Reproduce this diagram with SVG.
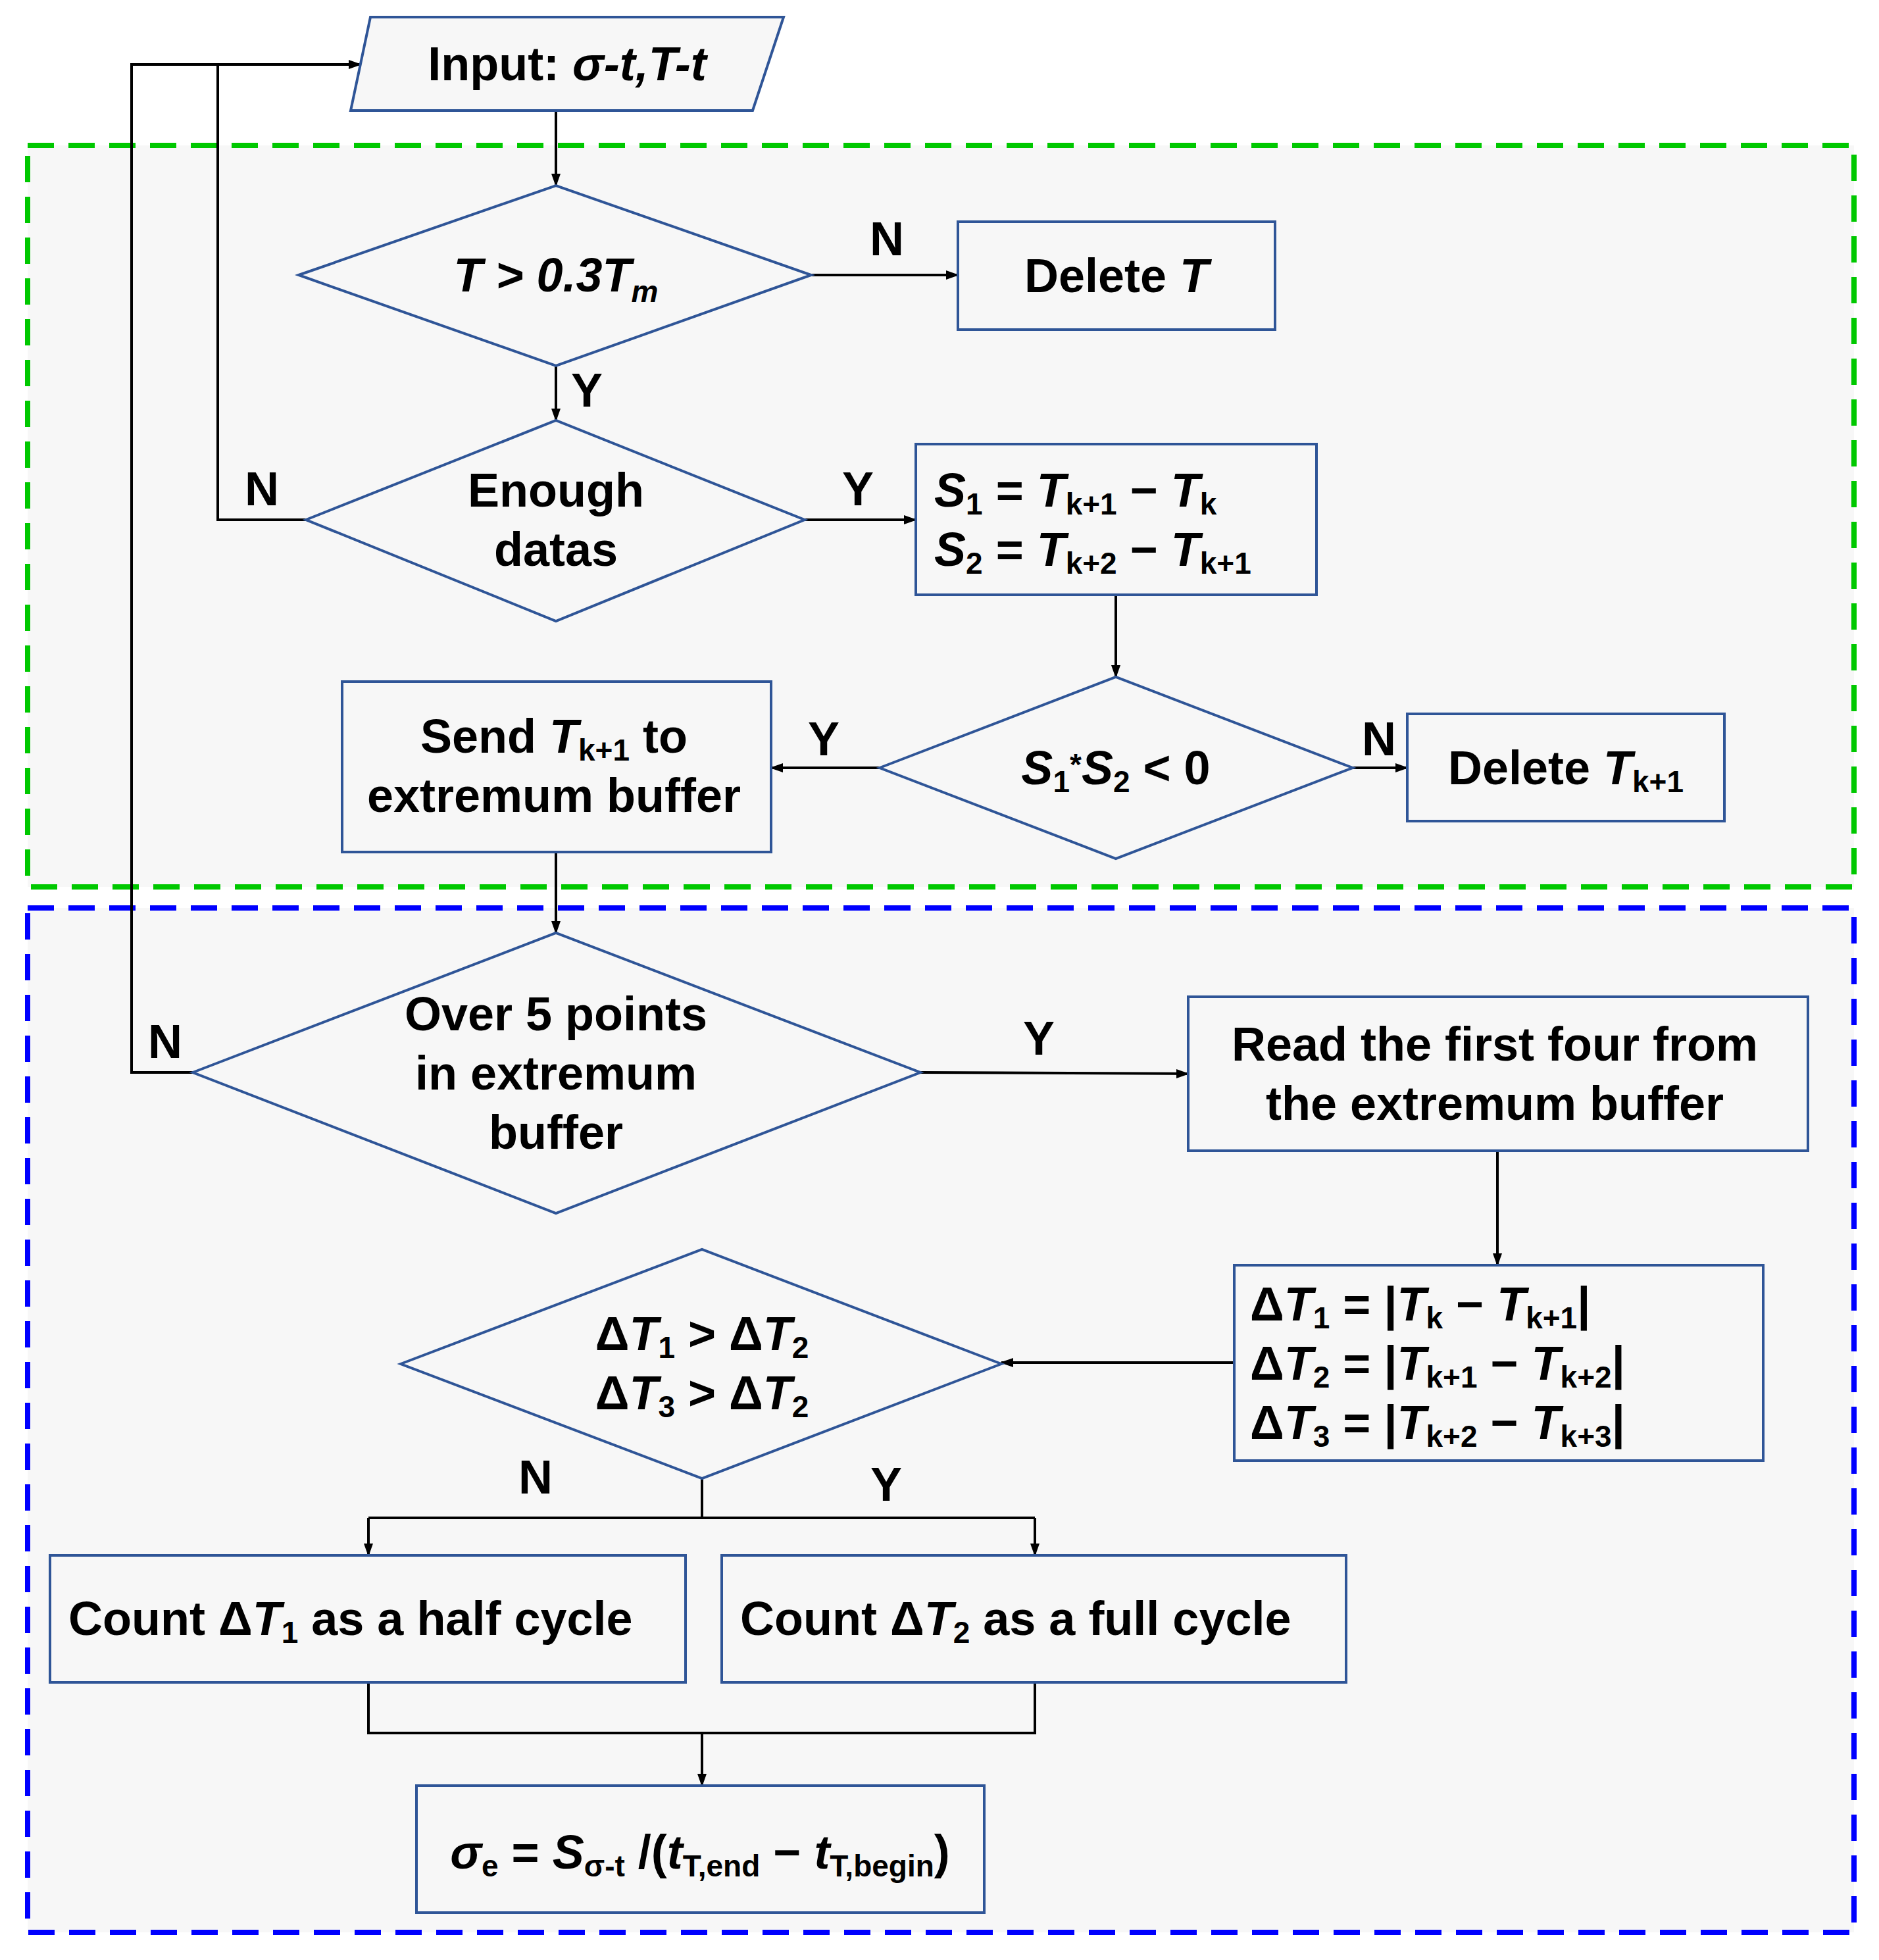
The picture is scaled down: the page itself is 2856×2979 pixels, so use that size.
<svg xmlns="http://www.w3.org/2000/svg" width="2856" height="2979" viewBox="0 0 2856 2979">
<style>
text{font-family:"Liberation Sans",Arial,sans-serif;font-weight:bold;font-size:72px;fill:#000}
.n{fill:#f7f7f7;stroke:#2f5597;stroke-width:4}
.c{fill:none;stroke:#000;stroke-width:4}
.s{font-size:46px}
.i{font-style:italic}
</style>
<defs>
<marker id="ar" markerWidth="20" markerHeight="20" refX="18" refY="10" orient="auto" markerUnits="userSpaceOnUse"><path d="M0,3L20,10L0,17z" fill="#000"/></marker></defs>
<rect width="2856" height="2979" fill="#fff"/>
<g id="regions">
<rect x="42" y="221" width="2776" height="1127" fill="#f7f7f7" stroke="#00c800" stroke-width="8" stroke-dasharray="40 22"/>
<rect x="42" y="1380" width="2776" height="1557" fill="#f7f7f7" stroke="#0000ff" stroke-width="8" stroke-dasharray="40 22"/>
</g>
<g id="connectors">
<path class="c" marker-end="url(#ar)" d="M293,1630H200V98H548"/>
<path class="c" d="M465,790H331V98"/>
<path class="c" marker-end="url(#ar)" d="M845,168V282"/>
<path class="c" marker-end="url(#ar)" d="M1233,418H1456"/>
<path class="c" marker-end="url(#ar)" d="M845,556V639"/>
<path class="c" marker-end="url(#ar)" d="M1223,790H1392"/>
<path class="c" marker-end="url(#ar)" d="M1696,904V1029"/>
<path class="c" marker-end="url(#ar)" d="M1337,1167H1172"/>
<path class="c" marker-end="url(#ar)" d="M2056,1167H2139"/>
<path class="c" marker-end="url(#ar)" d="M845,1295V1418"/>
<path class="c" marker-end="url(#ar)" d="M1399,1630L1806,1632"/>
<path class="c" marker-end="url(#ar)" d="M2276,1749V1923"/>
<path class="c" marker-end="url(#ar)" d="M1876,2071H1522"/>
<path class="c" d="M1067,2247V2307M560,2307H1573"/>
<path class="c" marker-end="url(#ar)" d="M560,2307V2364"/>
<path class="c" marker-end="url(#ar)" d="M1573,2307V2364"/>
<path class="c" d="M560,2557V2634H1573V2557"/>
<path class="c" marker-end="url(#ar)" d="M1067,2634V2714"/>
<text x="1322" y="388">N</text><text x="868" y="618">Y</text>
<text x="372" y="768">N</text><text x="1280" y="768">Y</text>
<text x="1228" y="1148">Y</text><text x="2070" y="1148">N</text>
<text x="225" y="1608">N</text><text x="1555" y="1603">Y</text>
<text x="788" y="2270">N</text><text x="1323" y="2281">Y</text>
</g>
<g id="input"><path class="n" d="M563,26H1191L1144,168H533Z"/><text x="862" y="122" text-anchor="middle">Input: <tspan class="i">σ-t,T-t</tspan></text></g>
<g id="d1"><path class="n" d="M454,418L845,282L1233,418L845,556Z"/><text x="845" y="443" text-anchor="middle" class="i">T &gt; 0.3T<tspan class="s" dy="16">m</tspan></text></g>
<g id="delT"><rect class="n" x="1456" y="337" width="482" height="164"/><text x="1697" y="444" text-anchor="middle">Delete <tspan class="i">T</tspan></text></g>
<g id="d2"><path class="n" d="M465,790L845,639L1223,790L845,944Z"/><text x="845" y="770" text-anchor="middle">Enough</text><text x="845" y="860" text-anchor="middle">datas</text></g>
<g id="sbox"><rect class="n" x="1392" y="675" width="609" height="229"/>
<text x="1420" y="770"><tspan class="i">S</tspan><tspan class="s" dy="12">1</tspan><tspan dy="-12"> = </tspan><tspan class="i">T</tspan><tspan class="s" dy="12">k+1</tspan><tspan dy="-12"> − </tspan><tspan class="i">T</tspan><tspan class="s" dy="12">k</tspan></text>
<text x="1420" y="860"><tspan class="i">S</tspan><tspan class="s" dy="12">2</tspan><tspan dy="-12"> = </tspan><tspan class="i">T</tspan><tspan class="s" dy="12">k+2</tspan><tspan dy="-12"> − </tspan><tspan class="i">T</tspan><tspan class="s" dy="12">k+1</tspan></text></g>
<g id="d3"><path class="n" d="M1337,1167L1696,1029L2056,1167L1696,1305Z"/><text x="1696" y="1192" text-anchor="middle"><tspan class="i">S</tspan><tspan class="s" dy="12">1</tspan><tspan dy="-26" class="s">*</tspan><tspan class="i" dy="14">S</tspan><tspan class="s" dy="12">2</tspan><tspan dy="-12"> &lt; 0</tspan></text></g>
<g id="send"><rect class="n" x="520" y="1036" width="652" height="259"/>
<text x="842" y="1144" text-anchor="middle">Send <tspan class="i">T</tspan><tspan class="s" dy="12">k+1</tspan><tspan dy="-12"> to</tspan></text><text x="842" y="1234" text-anchor="middle">extremum buffer</text></g>
<g id="delTk"><rect class="n" x="2139" y="1085" width="482" height="163"/><text x="2380" y="1192" text-anchor="middle">Delete <tspan class="i">T</tspan><tspan class="s" dy="12">k+1</tspan></text></g>
<g id="d4"><path class="n" d="M293,1630L845,1418L1399,1630L845,1844Z"/>
<text x="845" y="1566" text-anchor="middle">Over 5 points</text><text x="845" y="1656" text-anchor="middle">in extremum</text><text x="845" y="1746" text-anchor="middle">buffer</text></g>
<g id="read"><rect class="n" x="1806" y="1515" width="942" height="234"/>
<text x="2272" y="1612" text-anchor="middle">Read the first four from</text><text x="2272" y="1702" text-anchor="middle">the extremum buffer</text></g>
<g id="dt"><rect class="n" x="1876" y="1923" width="804" height="297"/>
<text x="1900" y="2007">Δ<tspan class="i">T</tspan><tspan class="s" dy="12">1</tspan><tspan dy="-12"> = |</tspan><tspan class="i">T</tspan><tspan class="s" dy="12">k</tspan><tspan dy="-12"> − </tspan><tspan class="i">T</tspan><tspan class="s" dy="12">k+1</tspan><tspan dy="-12">|</tspan></text>
<text x="1900" y="2097">Δ<tspan class="i">T</tspan><tspan class="s" dy="12">2</tspan><tspan dy="-12"> = |</tspan><tspan class="i">T</tspan><tspan class="s" dy="12">k+1</tspan><tspan dy="-12"> − </tspan><tspan class="i">T</tspan><tspan class="s" dy="12">k+2</tspan><tspan dy="-12">|</tspan></text>
<text x="1900" y="2187">Δ<tspan class="i">T</tspan><tspan class="s" dy="12">3</tspan><tspan dy="-12"> = |</tspan><tspan class="i">T</tspan><tspan class="s" dy="12">k+2</tspan><tspan dy="-12"> − </tspan><tspan class="i">T</tspan><tspan class="s" dy="12">k+3</tspan><tspan dy="-12">|</tspan></text></g>
<g id="d5"><path class="n" d="M609,2073L1067,1899L1522,2073L1067,2247Z"/>
<text x="1067" y="2052" text-anchor="middle">Δ<tspan class="i">T</tspan><tspan class="s" dy="12">1</tspan><tspan dy="-12"> &gt; Δ</tspan><tspan class="i">T</tspan><tspan class="s" dy="12">2</tspan></text>
<text x="1067" y="2142" text-anchor="middle">Δ<tspan class="i">T</tspan><tspan class="s" dy="12">3</tspan><tspan dy="-12"> &gt; Δ</tspan><tspan class="i">T</tspan><tspan class="s" dy="12">2</tspan></text></g>
<g id="half"><rect class="n" x="76" y="2364" width="966" height="193"/><text x="104" y="2485">Count Δ<tspan class="i">T</tspan><tspan class="s" dy="12">1</tspan><tspan dy="-12"> as a half cycle</tspan></text></g>
<g id="full"><rect class="n" x="1097" y="2364" width="949" height="193"/><text x="1125" y="2485">Count Δ<tspan class="i">T</tspan><tspan class="s" dy="12">2</tspan><tspan dy="-12"> as a full cycle</tspan></text></g>
<g id="sigma"><rect class="n" x="633" y="2714" width="863" height="193"/>
<text x="1064" y="2840" text-anchor="middle"><tspan class="i">σ</tspan><tspan class="s" dy="12">e</tspan><tspan dy="-12"> = </tspan><tspan class="i">S</tspan><tspan class="s" dy="12">σ-t</tspan><tspan dy="-12"> /(</tspan><tspan class="i">t</tspan><tspan class="s" dy="12">T,end</tspan><tspan dy="-12"> − </tspan><tspan class="i">t</tspan><tspan class="s" dy="12">T,begin</tspan><tspan dy="-12">)</tspan></text></g>
</svg>
